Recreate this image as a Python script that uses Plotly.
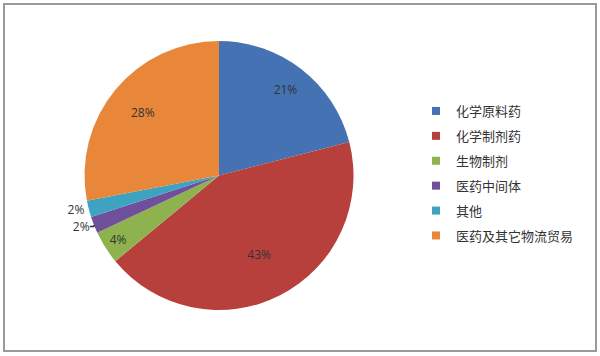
import plotly.graph_objects as go

categories = ["化学原料药", "化学制剂药", "生物制剂", "医药中间体", "其他", "医药及其它物流贸易"]
values = [21, 43, 4, 2, 2, 28]
colors = ["#4472B2", "#B8403C", "#8DB24E", "#6F509B", "#3EA3C0", "#E8873A"]

W, H = 600, 356
FONT = "Noto Sans CJK SC, Noto Sans, sans-serif"
CX, CY, R = 219, 175.5, 134.5   # pie centre / radius in pixels
R2 = 175                        # radius of the transparent label pie

big_text = [f"{v}%" if v >= 10 else "" for v in values]
small_text = [f"{v}%" if v < 10 else "" for v in values]
small_pos = ["inside" if v >= 3 else "outside" for v in values]

def dom(r):
    return dict(x=[(CX - r) / W, (CX + r) / W], y=[(H - CY - r) / H, (H - CY + r) / H])

fig = go.Figure()
fig.add_trace(go.Pie(
    labels=categories, values=values, sort=False, direction="clockwise",
    rotation=0, marker=dict(colors=colors, line=dict(width=0)),
    text=small_text, textinfo="text", textposition=small_pos,
    insidetextorientation="horizontal",
    textfont=dict(size=12, color="#333333", family="Open Sans, sans-serif"),
    showlegend=False, hoverinfo="label+percent", domain=dom(R),
))
# transparent pie used only to place the large-slice labels further out
fig.add_trace(go.Pie(
    labels=categories, values=values, sort=False, direction="clockwise",
    rotation=0, marker=dict(colors=["rgba(0,0,0,0)"] * len(values), line=dict(width=0)),
    text=big_text, textinfo="text", textposition="inside",
    insidetextorientation="horizontal",
    textfont=dict(size=12, color="#333333", family="Open Sans, sans-serif"),
    showlegend=False, hoverinfo="skip", domain=dom(R2),
))

for c, col in zip(categories, colors):
    fig.add_trace(go.Scatter(
        x=[None], y=[None], mode="markers", name=c, legendgroup=c,
        marker=dict(symbol="square", size=8, color=col), showlegend=True,
    ))

fig.update_layout(
    width=W, height=H, margin=dict(l=0, r=0, t=0, b=0),
    paper_bgcolor="white", plot_bgcolor="white",
    xaxis=dict(visible=False), yaxis=dict(visible=False),
    legend=dict(x=416 / W, y=1 - 96 / H, xanchor="left", yanchor="top",
                font=dict(size=13, color="#333333", family=FONT),
                tracegroupgap=5, itemwidth=30, bgcolor="rgba(0,0,0,0)"),
    font=dict(family=FONT),
    shapes=[dict(type="rect", xref="paper", yref="paper",
                 x0=4 / W, x1=596 / W, y0=(H - 351) / H, y1=(H - 4) / H,
                 line=dict(color="#9a9a9a", width=2))],
)

fig.write_html("out.html")
